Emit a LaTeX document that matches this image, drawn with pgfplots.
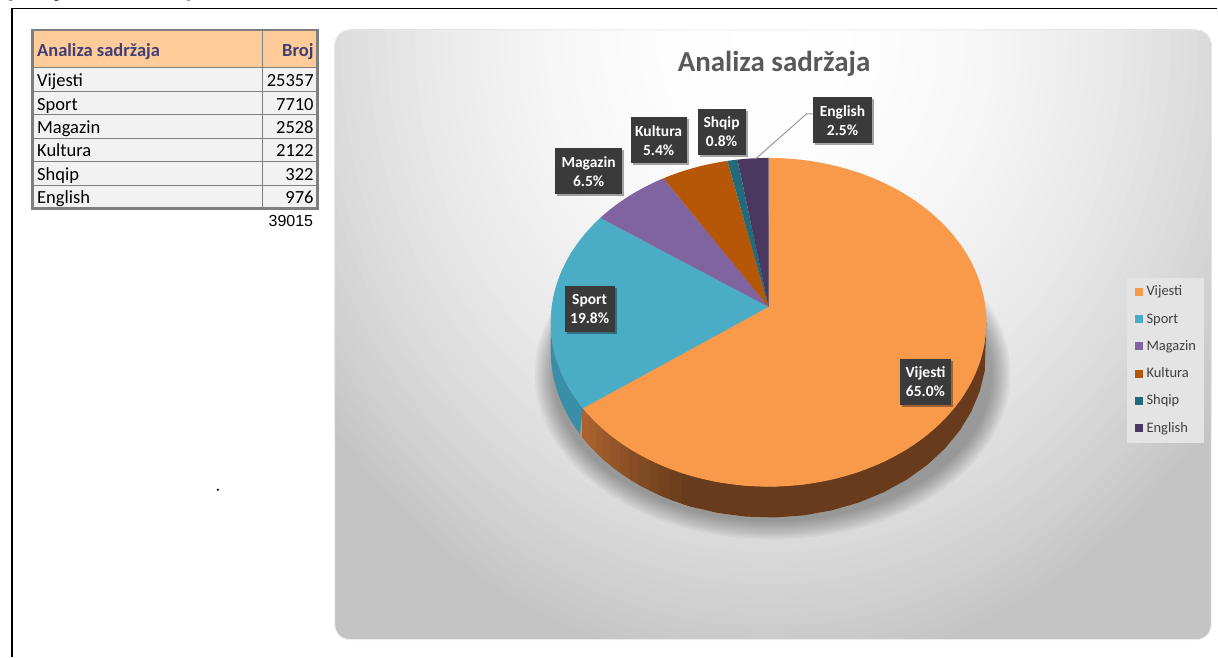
\documentclass[border=0pt]{standalone}
\usepackage{pgfplots}
\pgfplotsset{compat=1.18}
\usetikzlibrary{shadows}
\usepackage{fontspec}
\setmainfont{Carlito}
\newfontfamily\arialf{Liberation Sans}

\definecolor{cV}{HTML}{F9994A}
\definecolor{cS}{HTML}{4BACC6}
\definecolor{cM}{HTML}{8064A2}
\definecolor{cK}{HTML}{B65708}
\definecolor{cQ}{HTML}{226B7B}
\definecolor{cE}{HTML}{4A3860}
\definecolor{sideA}{HTML}{AC632F}
\definecolor{sideB}{HTML}{673B1B}
\definecolor{sideS}{HTML}{3A8EA7}
\definecolor{hdrfill}{HTML}{FFCC99}
\definecolor{hdrtext}{HTML}{3F3F76}
\definecolor{rowfill}{HTML}{F2F2F2}
\definecolor{tblline}{HTML}{7F7F7F}
\definecolor{titlec}{HTML}{595959}
\definecolor{lblfill}{HTML}{3A3A3A}
\definecolor{legtext}{HTML}{404040}
\definecolor{legfill}{HTML}{E4E4E4}

% data
\def\vV{25357}\def\vS{7710}\def\vM{2528}\def\vK{2122}\def\vQ{322}\def\vE{976}
\edef\tot{\fpeval{\vV+\vS+\vM+\vK+\vQ+\vE}}
% cumulative angles, clockwise from 12 o'clock
\edef\cA{\fpeval{round(360*\vV/\tot,4)}}
\edef\cB{\fpeval{round(\cA+360*\vS/\tot,4)}}
\edef\cC{\fpeval{round(\cB+360*\vM/\tot,4)}}
\edef\cD{\fpeval{round(\cC+360*\vK/\tot,4)}}
\edef\cF{\fpeval{round(\cD+360*\vQ/\tot,4)}}
\edef\cG{\fpeval{round(\cF+360*\vE/\tot,4)}}

\newcommand\tbl{\fontsize{18.5}{22}\selectfont}
\tikzset{lbl/.style={fill=lblfill, text=white, font=\bfseries\fontsize{15.5}{19}\selectfont, align=center, inner sep=0pt, minimum height=46pt, drop shadow={shadow xshift=2pt, shadow yshift=-2pt, opacity=0.35, fill=black}}}
\def\sideS{0,0.05,...,1,1.0002,1.05,1.1,...,2}

\begin{document}
\begin{tikzpicture}
\begin{axis}[scale only axis, width=1218pt, height=657pt, xmin=0, xmax=1218, ymin=0, ymax=657, y dir=reverse, hide axis, clip=false,
  declare function={
    PX(\t)=769+217*sin(\t)/(1+0.0942*cos(\t));
    PY(\t)=307-163*cos(\t)/(1+0.0942*cos(\t));
    PB(\t)=307+(28-163*cos(\t))/(1+0.0942*cos(\t));
  }]
% canvas
\fill[white] (axis cs:0,0) rectangle (axis cs:1218,657);
\draw[black, line width=1.5pt] (axis cs:12,657) -- (axis cs:12,8.3) -- (axis cs:1218,8.3);
\node[overlay, anchor=base, font=\bfseries\fontsize{28}{30}\selectfont] at (axis cs:15,-3) {p};
\node[overlay, anchor=base, font=\bfseries\fontsize{28}{30}\selectfont] at (axis cs:59,-3) {j};
\node[overlay, anchor=base, font=\bfseries\fontsize{28}{30}\selectfont] at (axis cs:191,-3) {y};
\fill[black] (axis cs:218,490) circle[radius=1.2pt];

% table
\fill[hdrfill] (axis cs:33,30) rectangle (axis cs:317,68);
\fill[rowfill] (axis cs:33,68) rectangle (axis cs:317,208);
\draw[tblline, line width=1pt] (axis cs:33,68) -- (axis cs:317,68);
\draw[tblline, line width=1pt] (axis cs:33,91.5) -- (axis cs:317,91.5);
\draw[tblline, line width=1pt] (axis cs:33,115) -- (axis cs:317,115);
\draw[tblline, line width=1pt] (axis cs:33,138.5) -- (axis cs:317,138.5);
\draw[tblline, line width=1pt] (axis cs:33,162) -- (axis cs:317,162);
\draw[tblline, line width=1pt] (axis cs:33,185.5) -- (axis cs:317,185.5);
\draw[tblline, line width=1pt] (axis cs:263,30) -- (axis cs:263,208);
\draw[tblline, line width=2.5pt] (axis cs:32.5,30) rectangle (axis cs:317.5,208.5);
\node[anchor=base west, font=\tbl\bfseries, text=hdrtext, inner sep=0pt] at (axis cs:37,56.7) {Analiza sadržaja};
\node[anchor=base east, font=\tbl\bfseries, text=hdrtext, inner sep=0pt] at (axis cs:314,56.7) {Broj};
\node[anchor=base west, font=\tbl, inner sep=0pt] at (axis cs:37,86.7) {Vijesti};
\node[anchor=base west, font=\tbl, inner sep=0pt] at (axis cs:37,110.1) {Sport};
\node[anchor=base west, font=\tbl, inner sep=0pt] at (axis cs:37,133.5) {Magazin};
\node[anchor=base west, font=\tbl, inner sep=0pt] at (axis cs:37,156.9) {Kultura};
\node[anchor=base west, font=\tbl, inner sep=0pt] at (axis cs:37,180.3) {Shqip};
\node[anchor=base west, font=\tbl, inner sep=0pt] at (axis cs:37,203.7) {English};
\node[anchor=base east, font=\tbl, inner sep=0pt] at (axis cs:314,86.7) {25357};
\node[anchor=base east, font=\tbl, inner sep=0pt] at (axis cs:314,110.1) {7710};
\node[anchor=base east, font=\tbl, inner sep=0pt] at (axis cs:314,133.5) {2528};
\node[anchor=base east, font=\tbl, inner sep=0pt] at (axis cs:314,156.9) {2122};
\node[anchor=base east, font=\tbl, inner sep=0pt] at (axis cs:314,180.3) {322};
\node[anchor=base east, font=\tbl, inner sep=0pt] at (axis cs:314,203.7) {976};
\node[anchor=base east, font=\arialf\fontsize{16}{18}\selectfont, inner sep=0pt] at (axis cs:313.5,227) {39015};

% chart area background (finely stepped radial gradient)
\begin{scope}
\clip[rounded corners=15pt] (axis cs:335,30) rectangle (axis cs:1212,640);
\fill[black!23] (axis cs:335,30) rectangle (axis cs:1212,640);
\pgfplotsinvokeforeach{60,59,...,1}{
  \fill[black!\fpeval{round(23*(#1/60)^2,2)}] (axis cs:770,40) ellipse[x radius=\fpeval{560*#1/60}pt, y radius=\fpeval{640*#1/60}pt];
}
\end{scope}
\draw[white!93!black, line width=0.8pt, rounded corners=15pt] (axis cs:335,30) rectangle (axis cs:1212,640);

% soft shadow
\pgfplotsinvokeforeach{0,1,...,9}{
  \fill[black, opacity=0.035] (axis cs:773,374) ellipse[x radius=\fpeval{238-2*#1}pt, y radius=\fpeval{166-2*#1}pt];
}

% side faces: Vijesti (dark base, then graded bands towards the left)
\addplot[fill=sideB, draw=none, samples at=\sideS, variable=\s,
  declare function={TV(\s)=ifthenelse(\s<1.0001,95.4+\s*(\cA-95.4),\cA-(\s-1)*(\cA-95.4));}]
  ({PX(TV(\s))},{ifthenelse(\s<1.0001,PY(TV(\s)),PB(TV(\s)))}) -- cycle;
\pgfplotsinvokeforeach{0,1,...,11}{
\addplot[fill={sideB!\fpeval{round(100*#1/11,1)}!sideA}, draw=none, samples at={0,0.25,0.5,0.75,1,1.0002,1.25,1.5,1.75,2}, variable=\s,
  declare function={TB(\s)=ifthenelse(\s<1.0001,(\cA-3*#1-3.6)+\s*(4),(\cA-3*#1+0.4)-(\s-1)*(4));}]
  ({PX(TB(\s))},{ifthenelse(\s<1.0001,PY(TB(\s)),PB(TB(\s)))}) -- cycle;
}
\addplot[fill=sideS, draw=none, samples at=\sideS, variable=\s,
  declare function={TS(\s)=ifthenelse(\s<1.0001,\cA+\s*(264.6-\cA),264.6-(\s-1)*(264.6-\cA));}]
  ({PX(TS(\s))},{ifthenelse(\s<1.0001,PY(TS(\s)),PB(TS(\s)))}) -- cycle;

% top faces
\addplot[fill=cV, draw=none, domain=0:\cA, samples=120, variable=\t] ({PX(\t)},{PY(\t)}) -- (axis cs:769,307) -- cycle;
\addplot[fill=cS, draw=none, domain=\cA:\cB, samples=40, variable=\t] ({PX(\t)},{PY(\t)}) -- (axis cs:769,307) -- cycle;
\addplot[fill=cM, draw=none, domain=\cB:\cC, samples=20, variable=\t] ({PX(\t)},{PY(\t)}) -- (axis cs:769,307) -- cycle;
\addplot[fill=cK, draw=none, domain=\cC:\cD, samples=20, variable=\t] ({PX(\t)},{PY(\t)}) -- (axis cs:769,307) -- cycle;
\addplot[fill=cQ, draw=none, domain=\cD:\cF, samples=5, variable=\t] ({PX(\t)},{PY(\t)}) -- (axis cs:769,307) -- cycle;
\addplot[fill=cE, draw=none, domain=\cF:\cG, samples=10, variable=\t] ({PX(\t)},{PY(\t)}) -- (axis cs:769,307) -- cycle;

% title
\node[anchor=base, font=\bfseries\fontsize{29}{34}\selectfont, text=titlec] at (axis cs:774.5,71.7) {Analiza sadržaja};

% data labels
\draw[white!60!black, line width=1pt] (axis cs:813,114) -- (axis cs:807,114) -- (axis cs:756,159);
\node[lbl, minimum width=51pt] at (axis cs:926,382) {Vijesti\\65.0\%};
\node[lbl, minimum width=50pt] at (axis cs:590,309) {Sport\\19.8\%};
\node[lbl, minimum width=67pt] at (axis cs:589,171.5) {Magazin\\6.5\%};
\node[lbl, minimum width=56pt] at (axis cs:659,140.5) {Kultura\\5.4\%};
\node[lbl, minimum width=48pt] at (axis cs:722,132) {Shqip\\0.8\%};
\node[lbl, minimum width=60pt] at (axis cs:843,120.5) {English\\2.5\%};

% legend
\fill[legfill] (axis cs:1128,278) rectangle (axis cs:1205,443);
\fill[cV] (axis cs:1136,288) rectangle (axis cs:1144,296);
\fill[cS] (axis cs:1136,315.3) rectangle (axis cs:1144,323.3);
\fill[cM] (axis cs:1136,342.6) rectangle (axis cs:1144,350.6);
\fill[cK] (axis cs:1136,369.9) rectangle (axis cs:1144,377.9);
\fill[cQ] (axis cs:1136,397.2) rectangle (axis cs:1144,405.2);
\fill[cE] (axis cs:1136,424.5) rectangle (axis cs:1144,432.5);
\node[anchor=base west, inner sep=0pt, text=legtext, font=\fontsize{14.5}{16}\selectfont] at (axis cs:1147,296) {Vijesti};
\node[anchor=base west, inner sep=0pt, text=legtext, font=\fontsize{14.5}{16}\selectfont] at (axis cs:1147,323.3) {Sport};
\node[anchor=base west, inner sep=0pt, text=legtext, font=\fontsize{14.5}{16}\selectfont] at (axis cs:1147,350.6) {Magazin};
\node[anchor=base west, inner sep=0pt, text=legtext, font=\fontsize{14.5}{16}\selectfont] at (axis cs:1147,377.9) {Kultura};
\node[anchor=base west, inner sep=0pt, text=legtext, font=\fontsize{14.5}{16}\selectfont] at (axis cs:1147,405.2) {Shqip};
\node[anchor=base west, inner sep=0pt, text=legtext, font=\fontsize{14.5}{16}\selectfont] at (axis cs:1147,432.5) {English};
\end{axis}
\end{tikzpicture}
\end{document}
